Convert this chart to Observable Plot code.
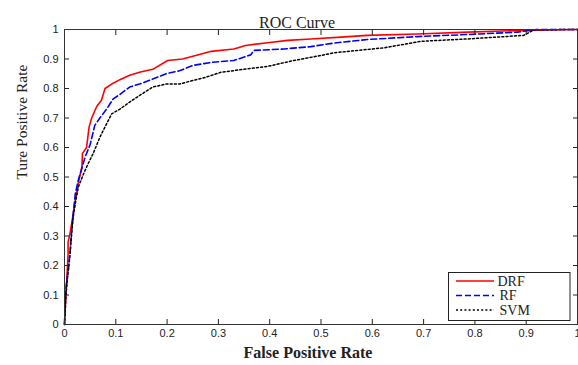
<!DOCTYPE html>
<html><head><meta charset="utf-8">
<script src="https://cdn.jsdelivr.net/npm/d3@7"></script>
<script src="https://cdn.jsdelivr.net/npm/@observablehq/plot@0.6"></script>
<style>body{margin:0;background:#fff}#chart{width:578px;height:365px}</style>
</head><body><div id="chart"></div>
<script>
const xTicks = [0,0.1,0.2,0.3,0.4,0.5,0.6,0.7,0.8,0.9,1];
const yTicks = [0,0.1,0.2,0.3,0.4,0.5,0.6,0.7,0.8,0.9,1];
const seriesNames = ["DRF","RF","SVM"];
const seriesColors = ["#ff0000","#0000ff","#000000"];
const seriesDash = [null,"6,3","2,2.2"];

const drfFpr = [0,0.002,0.005,0.007,0.007,0.011,0.017,0.021,0.027,0.034,0.035,0.043,0.048,0.053,0.063,0.072,0.079,0.092,0.108,0.127,0.146,0.172,0.201,0.23,0.263,0.286,0.33,0.353,0.396,0.435,0.48,0.539,0.59,0.688,0.786,0.895,1];
const drfTpr = [0,0.07,0.17,0.24,0.28,0.31,0.375,0.42,0.48,0.535,0.58,0.60,0.67,0.70,0.74,0.76,0.80,0.815,0.83,0.845,0.855,0.865,0.895,0.90,0.915,0.926,0.934,0.946,0.955,0.963,0.968,0.974,0.98,0.985,0.991,0.997,1];

const rfFpr = [0,0.001,0.003,0.008,0.011,0.014,0.017,0.021,0.027,0.034,0.04,0.05,0.059,0.069,0.082,0.095,0.108,0.127,0.146,0.172,0.198,0.224,0.25,0.288,0.33,0.363,0.369,0.428,0.48,0.525,0.59,0.688,0.786,0.883,0.92,1];
const rfTpr = [0,0.06,0.127,0.195,0.25,0.32,0.375,0.443,0.49,0.53,0.567,0.61,0.675,0.70,0.73,0.765,0.78,0.805,0.815,0.832,0.85,0.86,0.878,0.889,0.895,0.914,0.929,0.934,0.942,0.954,0.966,0.976,0.983,0.991,1,1];

const svmFpr = [0,0.001,0.003,0.006,0.011,0.014,0.017,0.022,0.027,0.037,0.046,0.056,0.069,0.082,0.092,0.108,0.127,0.146,0.172,0.198,0.224,0.25,0.275,0.305,0.34,0.396,0.447,0.5,0.525,0.623,0.695,0.786,0.895,0.915,1];
const svmTpr = [0,0.036,0.104,0.16,0.24,0.31,0.364,0.42,0.466,0.51,0.545,0.58,0.635,0.68,0.714,0.73,0.754,0.776,0.805,0.815,0.815,0.827,0.838,0.855,0.863,0.875,0.895,0.912,0.921,0.938,0.96,0.968,0.98,0.999,1];

const rows = [];
[[drfFpr,drfTpr],[rfFpr,rfTpr],[svmFpr,svmTpr]].forEach(([xs,ys],i)=>{
  xs.forEach((x,j)=>rows.push({series:seriesNames[i], x, y:ys[j]}));
});

const serif = "'Liberation Serif','Times New Roman',serif";
const lineMarks = seriesNames.map((name,i)=>Plot.line(rows.filter(d=>d.series===name),{
  x:"x", y:"y", stroke:seriesColors[i], strokeWidth:i===2?1.5:1.6, strokeDasharray:seriesDash[i], curve:"linear"
}));

const chart = Plot.plot({
  width:578, height:365,
  marginLeft:64, marginRight:1, marginTop:29, marginBottom:41,
  x:{domain:[0,1]}, y:{domain:[0,1]},
  style:{fontFamily:"'Liberation Sans',Arial,sans-serif", fontSize:"11px", color:"#222", background:"#fff", overflow:"visible"},
  marks:[
    ...lineMarks,
    Plot.axisX(xTicks,{anchor:"bottom", tickSize:0, tickPadding:5, label:null, tickFormat:d=>String(d)}),
    Plot.axisY(yTicks,{anchor:"left", tickSize:0, tickPadding:6, label:null, tickFormat:d=>String(d)}),
    Plot.axisX(xTicks,{anchor:"bottom", tickSize:-5, label:null, tickFormat:()=>""}),
    Plot.axisX(xTicks,{anchor:"top", tickSize:-5, label:null, tickFormat:()=>""}),
    Plot.axisY(yTicks,{anchor:"left", tickSize:-5, label:null, tickFormat:()=>""}),
    Plot.axisY(yTicks,{anchor:"right", tickSize:-5, label:null, tickFormat:()=>""}),
    Plot.frame({stroke:"#333", strokeWidth:1}),
    Plot.text(["ROC Curve"],{frameAnchor:"top", dx:-24, dy:-13, fontFamily:serif, fontSize:16, fill:"#222"}),
    Plot.text(["False Positive Rate"],{frameAnchor:"bottom", dx:-13, dy:33, fontFamily:serif, fontSize:16, fontWeight:"bold", fill:"#222"}),
    Plot.text(["Ture Positive Rate"],{frameAnchor:"left", dx:-42, dy:2.5, rotate:-90, fontFamily:serif, fontSize:15.5, fill:"#222"})
  ]
});
document.getElementById("chart").appendChild(chart);

// legend
const svg = d3.select(chart);
const lg = svg.append("g").attr("text-anchor","start");
lg.append("rect").attr("x",448.5).attr("y",272.5).attr("width",121.5).attr("height",48)
  .attr("fill","#fff").attr("stroke","#222").attr("stroke-width",1);
seriesNames.forEach((name,i)=>{
  const yy = 281 + i*14.5;
  lg.append("line").attr("x1",456).attr("x2",494).attr("y1",yy).attr("y2",yy)
    .attr("stroke",seriesColors[i]).attr("stroke-width",i===2?1.5:1.6)
    .attr("stroke-dasharray",seriesDash[i]);
  lg.append("text").attr("x",i===0?497.5:499.5).attr("y",yy).attr("dy","0.35em")
    .attr("font-family",serif).attr("font-size",14).attr("fill","#222").text(name);
});
</script></body></html>
